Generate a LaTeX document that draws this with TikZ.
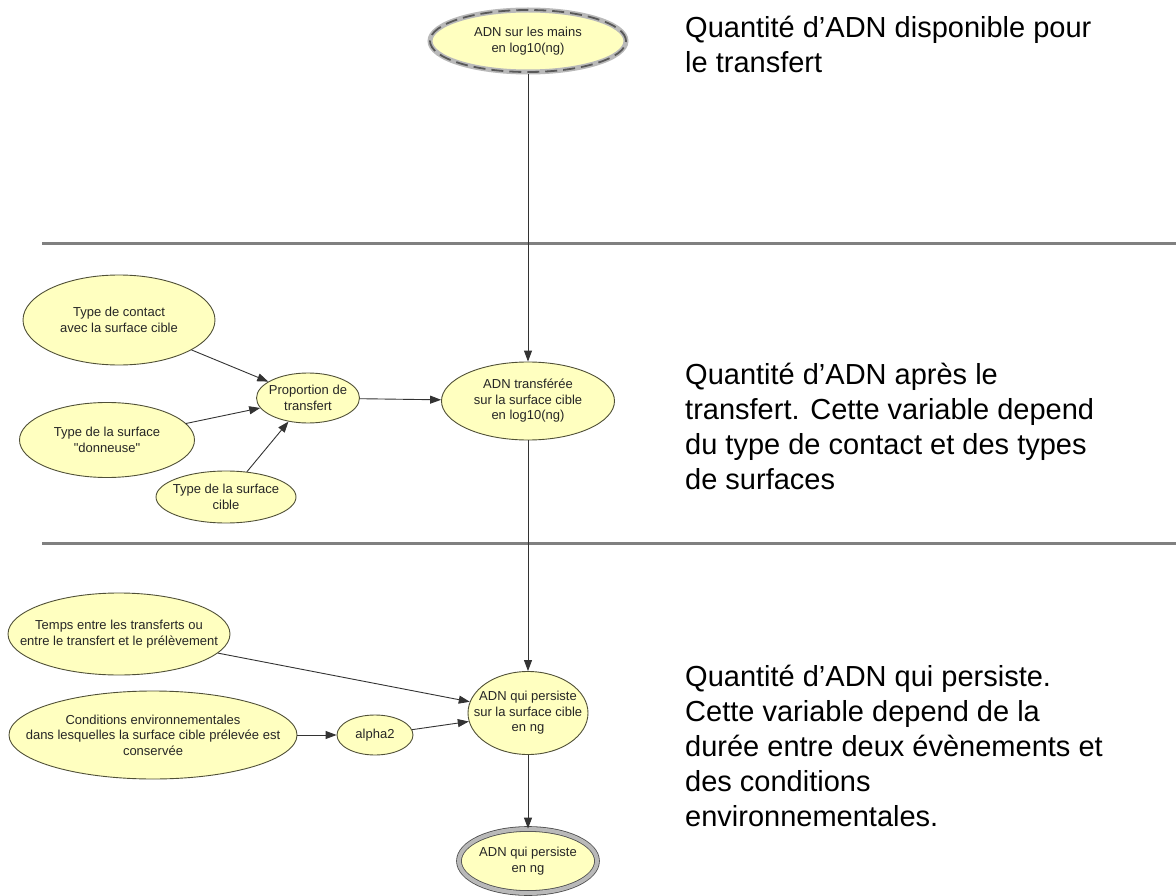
\documentclass[tikz,border=0pt]{standalone}
\usepackage{fontspec}
\setmainfont{Liberation Sans}[Ligatures=TeXOff]
\usetikzlibrary{shapes.geometric,arrows.meta}
\definecolor{jaune}{RGB}{255,255,192}
\definecolor{bord}{RGB}{80,80,55}

\begin{document}
\begin{tikzpicture}[x=1pt, y=-1pt,
	noeud/.style 2 args={ellipse, draw=bord, fill=jaune, line width=0.9pt, inner sep=0pt,
		minimum width=#1pt, minimum height=#2pt},
	etiquette/.style={align=center, inner sep=0pt, text=black!85, font=\fontsize{13}{15.5}\selectfont},
	fleche/.style={draw=black!80, line width=0.9pt, -{Triangle[length=11pt,width=8pt]}},
	separation/.style={draw=gray, line width=3pt},
	texte/.style={anchor=base west, align=left, inner sep=0pt, font=\fontsize{29}{35}\selectfont}]
	\useasboundingbox (0,0) rectangle (1176,896);

	% Separations entre les etapes
	\draw[separation] (42,244) -- (1176,244);
	\draw[separation] (42,543) -- (1176,543);

	% Etape 1 : ADN disponible
	\node[noeud={196}{62}, draw=gray!55, line width=5pt,
		postaction={draw=black!65, dash pattern=on 12pt off 6pt, line width=1.8pt},
		label={[etiquette]center:{ADN sur les mains\\en log10(ng)}}] (mains) at (528,41) {};

	% Etape 2 : transfert
	\node[noeud={192}{90}, label={[etiquette]center:{Type de contact\\avec la surface cible}}] (contact) at (119,320) {};
	\node[noeud={175}{75}, label={[etiquette]center:{Type de la surface\\"donneuse"}}] (donneuse) at (107,440) {};
	\node[noeud={140}{52}, label={[etiquette]center:{Type de la surface\\cible}}] (cible) at (226,497) {};
	\node[noeud={103}{50}, label={[etiquette]center:{Proportion de\\transfert}}] (proportion) at (308,398) {};
	\node[noeud={173}{78}, label={[etiquette]center:{ADN transférée\\sur la surface cible\\en log10(ng)}}] (transferee) at (528,401) {};

	% Etape 3 : persistance
	\node[noeud={222}{82}, label={[etiquette]center:{Temps entre les transferts ou\\entre le transfert et le prélèvement}}] (temps) at (119,634) {};
	\node[noeud={288}{88}, label={[etiquette]center:{Conditions environnementales\\dans lesquelles la surface cible prélevée est\\conservée}}] (conditions) at (153,735) {};
	\node[noeud={76}{40}, label={[etiquette]center:alpha2}] (alpha) at (375,735) {};
	\node[noeud={120}{83}, label={[etiquette]center:{ADN qui persiste\\sur la surface cible\\en ng}}] (persiste) at (528,713) {};
	\node[noeud={138}{64}, draw=black!70, line width=0.8pt, double=gray!55, double distance=4pt,
		label={[etiquette]center:{ADN qui persiste\\en ng}}] (final) at (528,861) {};

	% Liens
	\draw[fleche] (mains) -- (transferee);
	\draw[fleche] (contact) -- (proportion);
	\draw[fleche] (donneuse) -- (proportion);
	\draw[fleche] (cible) -- (proportion);
	\draw[fleche] (proportion) -- (transferee);
	\draw[fleche] (transferee) -- (persiste);
	\draw[fleche] (temps) -- (persiste);
	\draw[fleche] (conditions) -- (alpha);
	\draw[fleche] (alpha) -- (persiste);
	\draw[fleche] (persiste) -- (final);

	% Commentaires a droite (ancre sur la derniere ligne)
	\node[texte] (txtdispo) at (685,73) {Quantité d’ADN disponible pour\\le transfert};
	\node[texte] (txtapres) at (685,489) {Quantité d’ADN après le\\transfert. Cette variable depend\\du type de contact et des types\\de surfaces};
	\node[texte] (txtpersiste) at (685,826) {Quantité d’ADN qui persiste.\\Cette variable depend de la\\durée entre deux évènements et\\des conditions\\environnementales.};
\end{tikzpicture}
\end{document}
